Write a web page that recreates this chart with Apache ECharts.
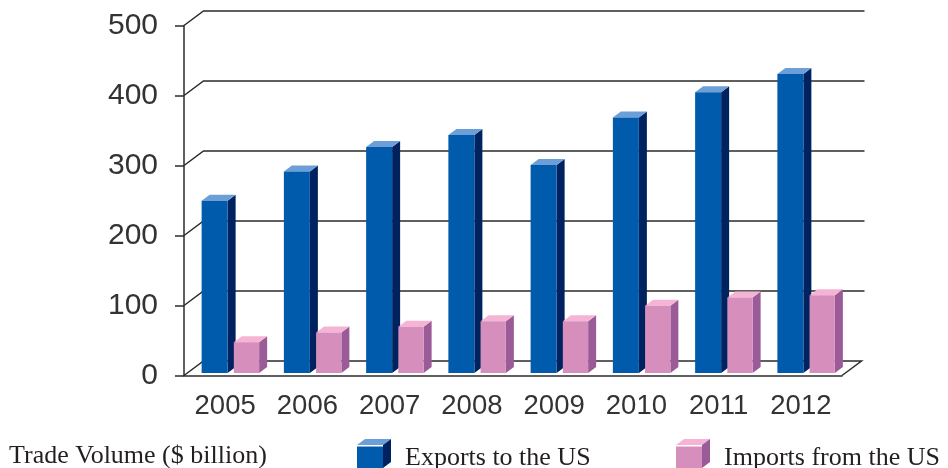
<!DOCTYPE html>
<html>
<head>
<meta charset="utf-8">
<style>
  html, body { margin: 0; padding: 0; background: #fff; }
  #chart { width: 948px; height: 468px; }
</style>
<script src="https://cdn.jsdelivr.net/npm/echarts@6/dist/echarts.min.js"></script>
</head>
<body>
<div id="chart"></div>
<script>
const years = ["2005", "2006", "2007", "2008", "2009", "2010", "2011", "2012"];
const exportsToUs = [246, 288, 323, 340, 297, 365, 401, 427];
const importsFromUs = [44, 58, 66, 74, 74, 96, 108, 111];
const yTicks = [0, 100, 200, 300, 400, 500];

const INK = "#2b2b2b";
const BLUE = { front: "#005bac", side: "#00235f", top: "#6c9fd8" };
const PINK = { front: "#d68fbd", side: "#9a5b98", top: "#f5b4d4" };
// 3d 偏移量
const WALL_DX = 19.5, WALL_DY = -14.5;
const BAR_DX = 8, BAR_DY = -6, BAR_LIFT = -2.5;

/* 后墙网格线 */
function renderWall(params, api) {
  const cs = params.coordSys;
  const y = api.coord([0, api.value(1)])[1];
  const isFloor = api.value(1) === 0;
  const pts = [
    [cs.x, y],
    [cs.x + WALL_DX, y + WALL_DY],
    [cs.x + cs.width + (isFloor ? WALL_DX : WALL_DX + 3), y + WALL_DY],
  ];
  if (isFloor) pts.push([cs.x + cs.width, y]);
  return {
    type: "polyline",
    silent: true,
    shape: { points: pts },
    style: { stroke: INK, lineWidth: 1.5, fill: null },
  };
}

/* 立体柱：正面 + 侧面 + 顶面 */
function barRenderer(colors, from, to) {
  return function (params, api) {
    const top = api.coord([api.value(0), api.value(1)]);
    const base = api.coord([api.value(0), 0]);
    const x0 = top[0] + from, x1 = top[0] + to;
    const y0 = top[1] + BAR_LIFT, y1 = base[1] + BAR_LIFT;
    return {
      type: "group",
      children: [
        {
          type: "polygon",
          shape: { points: [[x1, y0], [x1 + BAR_DX, y0 + BAR_DY], [x1 + BAR_DX, y1 + BAR_DY], [x1, y1]] },
          style: { fill: colors.side },
        },
        {
          type: "polygon",
          shape: { points: [[x0, y0], [x0 + BAR_DX, y0 + BAR_DY], [x1 + BAR_DX, y0 + BAR_DY], [x1, y0]] },
          style: { fill: colors.top },
        },
        {
          type: "rect",
          shape: { x: x0, y: y0, width: x1 - x0, height: y1 - y0 },
          style: { fill: colors.front },
        },
      ],
    };
  };
}

const legendBase = {
  top: 445,
  padding: 0,
  itemWidth: 26,
  itemHeight: 23,
  icon: "rect",
  selectedMode: false,
  textStyle: {
    fontFamily: "Liberation Serif",
    fontSize: 26,
    color: "#231f20",
    padding: [0, 0, 0, 17],
  },
};

// 图例方块上的顶面和侧面
function cubeCap(x, y, size, h, colors) {
  return [
    {
      type: "polygon",
      shape: { points: [[x, y], [x + 8, y - 6], [x + size + 8, y - 6], [x + size, y]] },
      style: { fill: colors.top },
    },
    {
      type: "polygon",
      shape: { points: [[x + size, y], [x + size + 8, y - 6], [x + size + 8, y + h - 6], [x + size, y + h]] },
      style: { fill: colors.side },
    },
  ];
}

const options = {
  animation: false,
  backgroundColor: "#fff",
  grid: { left: 184, right: 106, top: 25.5, bottom: 92.5 },
  legend: [
    Object.assign({}, legendBase, { left: 357, data: ["Exports to the US"] }),
    Object.assign({}, legendBase, { left: 676, data: ["Imports from the US"] }),
  ],
  graphic: [
    {
      type: "text",
      left: 9,
      top: 443,
      style: {
        text: "Trade Volume ($ billion)",
        fontFamily: "Liberation Serif",
        fontSize: 26,
        fill: "#231f20",
      },
    },
    ...cubeCap(357, 445, 26, 23, BLUE),
    ...cubeCap(676, 445, 26, 23, PINK),
  ],
  xAxis: {
    type: "category",
    data: years,
    axisLine: { lineStyle: { color: INK, width: 1.5 } },
    axisTick: { length: 8, lineStyle: { color: INK, width: 1.5 } },
    axisLabel: {
      margin: 17,
      fontFamily: "Liberation Sans",
      fontSize: 27.5,
      color: "#333",
    },
  },
  yAxis: {
    type: "value",
    min: 0,
    max: 500,
    interval: 100,
    splitLine: { show: false },
    axisLine: { show: true, lineStyle: { color: INK, width: 1.5 } },
    axisTick: { show: true, length: 9, lineStyle: { color: INK, width: 1.5 } },
    axisLabel: {
      margin: 26,
      padding: [3, 0, 0, 0],
      fontFamily: "Liberation Sans",
      fontSize: 30,
      color: "#333",
    },
  },
  series: [
    {
      name: "wall",
      type: "custom",
      z: 1,
      silent: true,
      renderItem: renderWall,
      data: yTicks.map((v) => [0, v]),
    },
    {
      name: "Exports to the US",
      type: "custom",
      z: 3,
      itemStyle: { color: BLUE.front },
      renderItem: barRenderer(BLUE, -23.5, 2.5),
      data: exportsToUs.map((v, i) => [i, v]),
    },
    {
      name: "Imports from the US",
      type: "custom",
      z: 4,
      itemStyle: { color: PINK.front },
      renderItem: barRenderer(PINK, 8.7, 34),
      data: importsFromUs.map((v, i) => [i, v]),
    },
  ],
};

const chart = echarts.init(document.getElementById("chart"));
chart.setOption(options);
</script>
</body>
</html>
